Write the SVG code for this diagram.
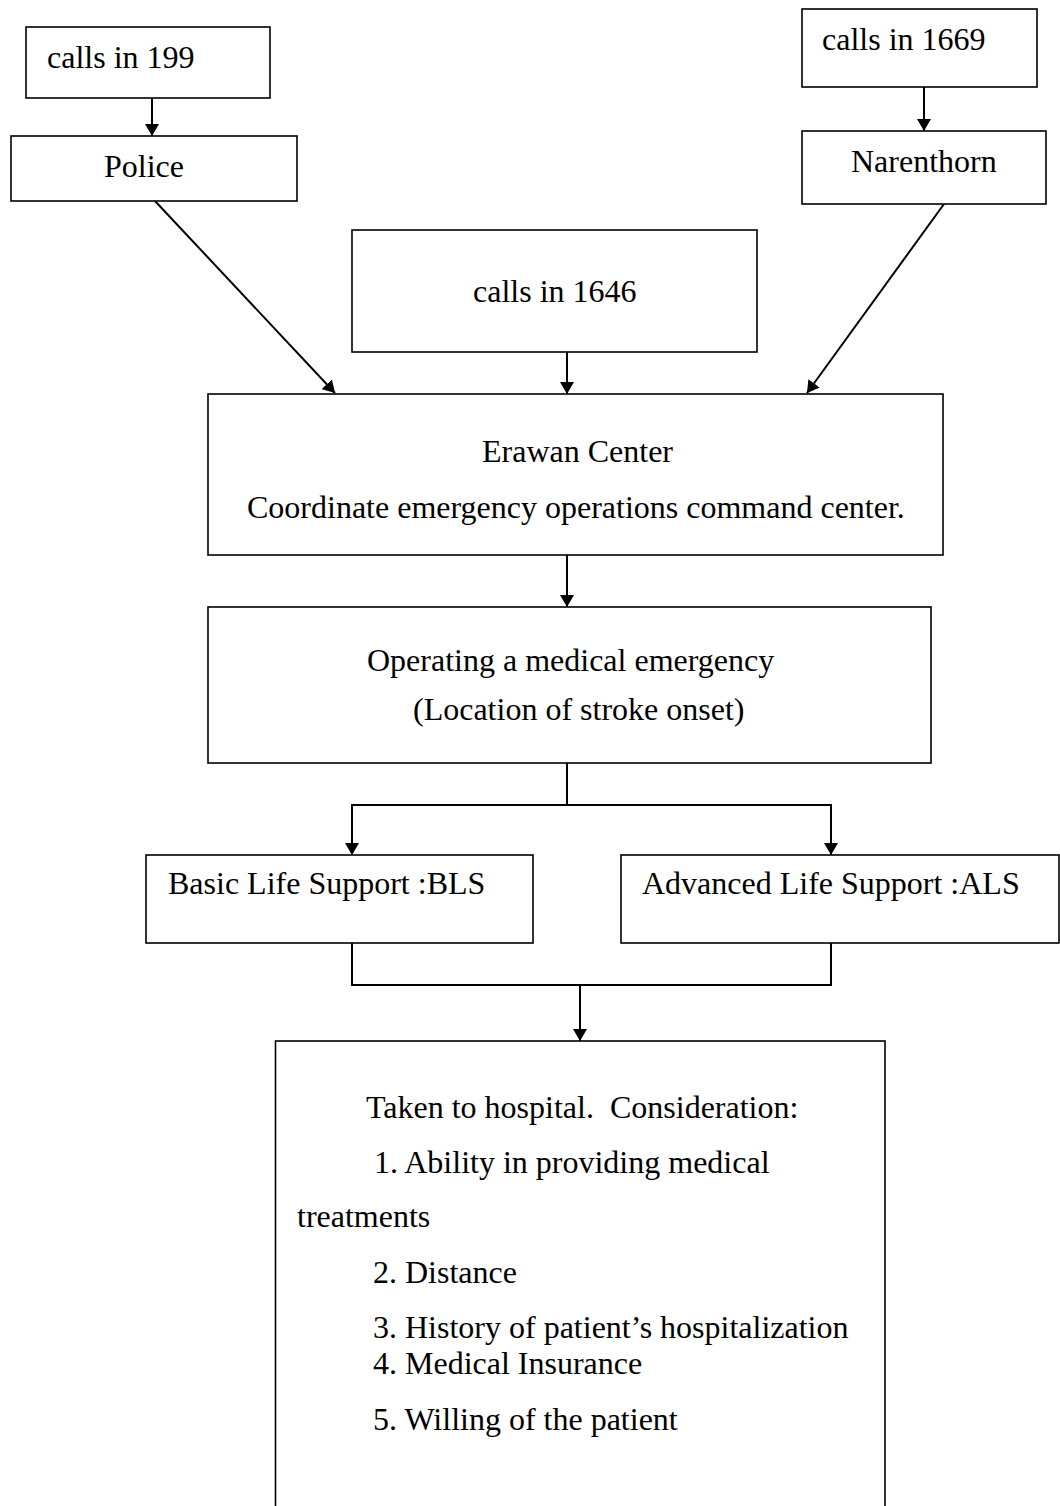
<svg xmlns="http://www.w3.org/2000/svg" width="1060" height="1506" viewBox="0 0 1060 1506">
<style>
.box{fill:#fff;stroke:#000;stroke-width:1.6}
.t{font-family:"Liberation Serif","Times New Roman",serif;font-size:32px;fill:#000;white-space:pre}
.c{fill:none;stroke:#000;stroke-width:2}
.a{marker-end:url(#arr)}
</style>
<defs>
<marker id="arr" markerUnits="userSpaceOnUse" markerWidth="12" markerHeight="14" refX="12" refY="7" orient="auto">
<path d="M0,0 L12,7 L0,14 z" fill="#000"/>
</marker>
</defs>
<rect width="1060" height="1506" fill="#fff"/>
<g id="connectors">
<line class="c a" x1="152" y1="98" x2="152" y2="136"/>
<line class="c a" x1="924" y1="87" x2="924" y2="131"/>
<line class="c a" x1="155" y1="201" x2="335" y2="393"/>
<line class="c a" x1="567" y1="352" x2="567" y2="394"/>
<line class="c a" x1="944" y1="204" x2="807" y2="393"/>
<line class="c a" x1="567" y1="555" x2="567" y2="607"/>
<line class="c" x1="567" y1="763" x2="567" y2="805"/>
<path class="c a" d="M567,805 H352 V855"/>
<path class="c a" d="M567,805 H831 V855"/>
<path class="c" d="M352,943 V985 H831 V943"/>
<line class="c a" x1="580" y1="985" x2="580" y2="1041"/>
</g>
<g id="n199">
<rect class="box" x="26" y="27" width="244" height="71"/>
<text class="t" x="47" y="68">calls in 199</text>
</g>
<g id="police">
<rect class="box" x="11" y="136" width="286" height="65"/>
<text class="t" x="104" y="176.5">Police</text>
</g>
<g id="n1669">
<rect class="box" x="802" y="9" width="235" height="78"/>
<text class="t" x="822" y="50">calls in 1669</text>
</g>
<g id="narenthorn">
<rect class="box" x="802" y="131" width="244" height="73"/>
<text class="t" x="851" y="172">Narenthorn</text>
</g>
<g id="n1646">
<rect class="box" x="352" y="230" width="405" height="122"/>
<text class="t" x="473" y="302">calls in 1646</text>
</g>
<g id="erawan">
<rect class="box" x="208" y="394" width="735" height="161"/>
<text class="t" x="482" y="462">Erawan Center</text>
<text class="t" x="247" y="518">Coordinate emergency operations command center.</text>
</g>
<g id="operating">
<rect class="box" x="208" y="607" width="723" height="156"/>
<text class="t" x="367" y="671">Operating a medical emergency</text>
<text class="t" x="413" y="720">(Location of stroke onset)</text>
</g>
<g id="bls">
<rect class="box" x="146" y="855" width="387" height="88"/>
<text class="t" x="168" y="894">Basic Life Support :BLS</text>
</g>
<g id="als">
<rect class="box" x="621" y="855" width="438" height="88"/>
<text class="t" x="642" y="894">Advanced Life Support :ALS</text>
</g>
<g id="hospital">
<rect class="box" x="275.5" y="1041" width="609.5" height="480"/>
<text class="t" x="366" y="1118">Taken to hospital.  Consideration:</text>
<text class="t" x="374" y="1173">1. Ability in providing medical</text>
<text class="t" x="297" y="1227">treatments</text>
<text class="t" x="373" y="1283">2. Distance</text>
<text class="t" x="373" y="1338">3. History of patient’s hospitalization</text>
<text class="t" x="373" y="1374">4. Medical Insurance</text>
<text class="t" x="373" y="1430">5. Willing of the patient</text>
</g>
</svg>
